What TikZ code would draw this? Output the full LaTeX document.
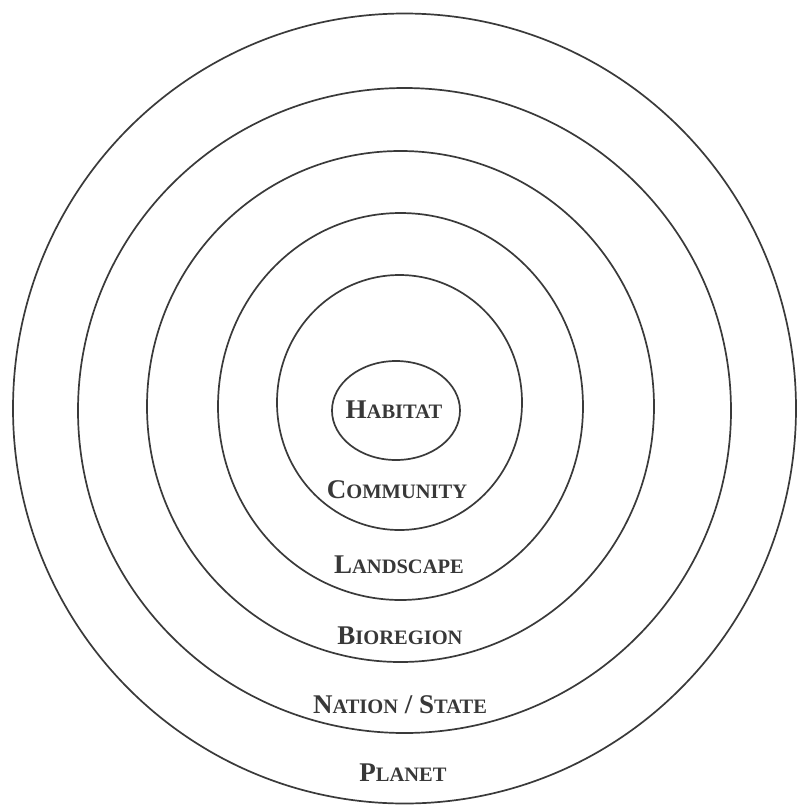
\documentclass[tikz,border=0pt]{standalone}
\usepackage{fontspec}
\setmainfont{Liberation Serif}
\newcommand\capsc[2]{#1{\fontsize{20.5}{20.5}\selectfont #2}}
\definecolor{ink}{HTML}{3A3A3A}
\definecolor{txt}{HTML}{383838}
\tikzset{
  ring/.style={draw=ink, line width=1.7pt},
  lab/.style={text=txt, font=\fontsize{27}{27}\selectfont\bfseries, inner sep=0pt, anchor=center}
}
\begin{document}
\begin{tikzpicture}[x=1pt, y=-1pt]
\useasboundingbox[fill=white] (0,0) rectangle (799,807);
\draw[ring] (404.5,408.5) ellipse [x radius=391.5pt, y radius=395pt];
\draw[ring] (404.5,410.5) ellipse [x radius=326.5pt, y radius=322.5pt];
\draw[ring] (400.5,406.5) ellipse [x radius=253.5pt, y radius=255.5pt];
\draw[ring] (400.5,406.5) ellipse [x radius=182.5pt, y radius=193.5pt];
\draw[ring] (399.5,402.5) ellipse [x radius=122.5pt, y radius=127.5pt];
\draw[ring] (396,410.5) ellipse [x radius=64pt, y radius=49.5pt];
\node[lab] (habitat) at (394,410) {\capsc{H}{ABITAT}};
\node[lab] (community) at (397,490) {\capsc{C}{OMMUNITY}};
\node[lab] (landscape) at (399,565) {\capsc{L}{ANDSCAPE}};
\node[lab] (bioregion) at (400,636) {\capsc{B}{IOREGION}};
\node[lab] (nation) at (400,705) {\capsc{N}{ATION} / \capsc{S}{TATE}};
\node[lab] (planet) at (403,773) {\capsc{P}{LANET}};
\end{tikzpicture}
\end{document}
